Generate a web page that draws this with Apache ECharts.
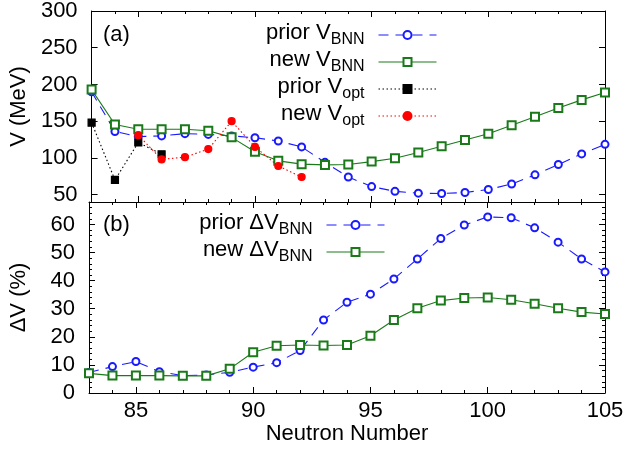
<!DOCTYPE html>
<html><head><meta charset="utf-8">
<script src="https://cdn.jsdelivr.net/npm/echarts@6/dist/echarts.min.js"></script>
<style>html,body{margin:0;padding:0;background:#fff}#c{width:629px;height:458px}</style>
</head><body><div id="c"></div>
<script>
// ---- data ----
const neutronNumbers = [83,84,85,86,87,88,89,90,91,92,93,94,95,96,97,98,99,100,101,102,103,104,105];
const priorVBNN = [190,136,129,130,133,132,130,127.5,123,115,94,74,61,54.5,52,51.5,53,57,64.5,77,91,105.5,118.5];
const newVBNN = [193,145.5,139,139,139,137,128,108.5,96,91.5,90.5,91,95,99.5,107.5,116,124.5,133,144.5,156,168,179,189];
const priorVoptN = [83,84,85,86];
const priorVopt = [148,70,121,105];
const newVoptN = [85,86,87,88,89,90,91,92];
const newVopt = [131,98,101,112,150,115,89,74];
const priorDV = [7.3,9.4,11.2,7.6,6.2,6.4,7.4,9.2,10.8,15.1,26,32.3,35.2,40.6,47.7,55,59.8,62.7,62.4,58.8,53.7,47.7,43.1];
const newDV = [7.0,6.2,6.2,6.2,6.1,6.1,8.6,14.5,16.8,17.1,16.9,17.1,20.4,26,30.2,32.9,33.8,34,33.2,31.8,30.2,28.8,28.1];
const xMajorTicks = [85,90,95,100,105];
const xMinorTicks = [83,84,85,86,87,88,89,90,91,92,93,94,95,96,97,98,99,100,101,102,103,104,105];
const yTopTicks = [50,100,150,200,250,300];
const yBotTicks = [0,10,20,30,40,50,60];
const yBotMinorTicks = [0,2,4,6,8,10,12,14,16,18,20,22,24,26,28,30,32,34,36,38,40,42,44,46,48,50,52,54,56,58,60,62,64,66,68];

const FONT = '"Liberation Sans", Arial, Helvetica, sans-serif';
const BLUE = '#1a1aff', GREEN = '#1a7a1a', BLACK = '#000', RED = '#ff0000';
function pairs(xs, ys) { return xs.map((x, i) => [x, ys[i]]); }

function ax(extra) {
  const base = {
    type: 'value', splitLine: { show: false },
    axisLine: { show: false, onZero: false, lineStyle: { color: '#000', width: 1 } },
    axisLabel: { show: false },
    axisTick: { show: true, inside: true, lineStyle: { color: '#000', width: 1 } }
  };
  return echarts.util.merge(base, extra, true);
}

const xAxes = [];
[0, 1].forEach(g => {
  ['bottom', 'top'].forEach(pos => {
    xAxes.push(ax({ gridIndex: g, position: pos, offset: 0, min: 83, max: 105,
      axisLine: { show: true }, axisTick: { length: 3, customValues: xMinorTicks } }));
    const longAx = ax({ gridIndex: g, position: pos, offset: 0, min: 83, max: 105,
      axisTick: { length: 6, customValues: xMajorTicks } });
    if (g === 1 && pos === 'bottom') {
      longAx.axisLabel = { show: true, customValues: xMajorTicks, fontSize: 22, color: '#000', fontFamily: FONT, margin: 7 };
      longAx.name = 'Neutron Number';
      longAx.nameLocation = 'middle';
      longAx.nameGap = 26;
      longAx.nameTextStyle = { fontSize: 22, color: '#000', fontFamily: FONT };
    }
    xAxes.push(longAx);
  });
});

const yLabelStyle = { show: true, fontSize: 22, color: '#000', fontFamily: FONT, margin: 14 };
const yAxes = [
  ax({ gridIndex: 0, position: 'left', min: 40, max: 300, axisLine: { show: true },
       axisTick: { length: 6, customValues: yTopTicks },
       axisLabel: Object.assign({ customValues: yTopTicks }, yLabelStyle),
       name: 'V (MeV)', nameLocation: 'middle', nameGap: 59,
       nameTextStyle: { fontSize: 22, color: '#000', fontFamily: FONT } }),
  ax({ gridIndex: 0, position: 'right', min: 40, max: 300, axisLine: { show: true },
       axisTick: { length: 6, customValues: yTopTicks } }),
  ax({ gridIndex: 1, position: 'left', offset: 0, min: 0, max: 68, axisLine: { show: true },
       axisTick: { length: 6, customValues: yBotTicks },
       axisLabel: Object.assign({ customValues: yBotTicks }, yLabelStyle),
       name: 'ΔV (%)', nameLocation: 'middle', nameGap: 59,
       nameTextStyle: { fontSize: 22, color: '#000', fontFamily: FONT } }),
  ax({ gridIndex: 1, position: 'left', offset: 0, min: 0, max: 68,
       axisTick: { length: 3, customValues: yBotMinorTicks } }),
  ax({ gridIndex: 1, position: 'right', offset: 0, min: 0, max: 68, axisLine: { show: true },
       axisTick: { length: 6, customValues: yBotTicks } }),
  ax({ gridIndex: 1, position: 'right', offset: 0, min: 0, max: 68,
       axisTick: { length: 3, customValues: yBotMinorTicks } })
];

const legendText = {
  'prior V_BNN': '{m|prior V}{s|BNN}',
  'new V_BNN': '{m|new V}{s|BNN}',
  'prior V_opt': '{m|prior V}{s|opt}',
  'new V_opt': '{m|new V}{s|opt}',
  'prior dV_BNN': '{m|prior ΔV}{s|BNN}',
  'new dV_BNN': '{m|new ΔV}{s|BNN}'
};
const legendTextStyle = {
  color: '#000', fontFamily: FONT, fontSize: 22, padding: [0, 9, 0, 0],
  rich: {
    m: { fontSize: 22, fontFamily: FONT, color: '#000', lineHeight: 26, verticalAlign: 'top' },
    s: { fontSize: 16, fontFamily: FONT, color: '#000', lineHeight: 26, verticalAlign: 'bottom' }
  }
};
function legendCfg(names, right, top) {
  return {
    data: names, orient: 'vertical', align: 'right', right: right, top: top,
    padding: 0, itemGap: 1, itemWidth: 58, itemHeight: 10, selectedMode: false,
    formatter: n => legendText[n], textStyle: legendTextStyle,
    lineStyle: { width: 1 }
  };
}

function lineSeries(name, xi, yi, data, color, symbol, size, ltype) {
  return {
    name: name, type: 'line', xAxisIndex: xi, yAxisIndex: yi, data: data,
    symbol: symbol, symbolSize: size, showSymbol: true,
    itemStyle: { color: color, borderColor: color, borderWidth: 1.2 },
    lineStyle: { color: color, width: 1.1, type: ltype },
    emphasis: { disabled: true }, z: 2
  };
}

const option = {
  animation: false,
  backgroundColor: '#fff',
  grid: [
    { left: 88, right: 24, top: 10, height: 192 },
    { left: 88, right: 24, top: 202, height: 191 }
  ],
  title: [
    { text: '(a)', left: 103, top: 24, padding: 0, textStyle: { fontSize: 22, fontWeight: 'normal', color: '#000', fontFamily: FONT } },
    { text: '(b)', left: 103, top: 214, padding: 0, textStyle: { fontSize: 22, fontWeight: 'normal', color: '#000', fontFamily: FONT } }
  ],
  legend: [
    legendCfg(['prior V_BNN', 'new V_BNN', 'prior V_opt', 'new V_opt'], 192, 22),
    legendCfg(['prior dV_BNN', 'new dV_BNN'], 244, 212)
  ],
  xAxis: xAxes,
  yAxis: yAxes,
  series: [
    lineSeries('prior V_BNN', 0, 0, pairs(neutronNumbers, priorVBNN), BLUE, 'emptyCircle', 7, [10, 7]),
    lineSeries('new V_BNN', 0, 0, pairs(neutronNumbers, newVBNN), GREEN, 'emptyRect', 8, 'solid'),
    lineSeries('prior V_opt', 0, 0, pairs(priorVoptN, priorVopt), BLACK, 'rect', 7, [1.5, 2.5]),
    lineSeries('new V_opt', 0, 0, pairs(newVoptN, newVopt), RED, 'circle', 7, [1.5, 2.5]),
    lineSeries('prior dV_BNN', 4, 2, pairs(neutronNumbers, priorDV), BLUE, 'emptyCircle', 7, [10, 7]),
    lineSeries('new dV_BNN', 4, 2, pairs(neutronNumbers, newDV), GREEN, 'emptyRect', 8, 'solid')
  ]
};
const chart = echarts.init(document.getElementById('c'), null, { renderer: 'canvas' });
chart.setOption(option);
</script>
</body></html>
